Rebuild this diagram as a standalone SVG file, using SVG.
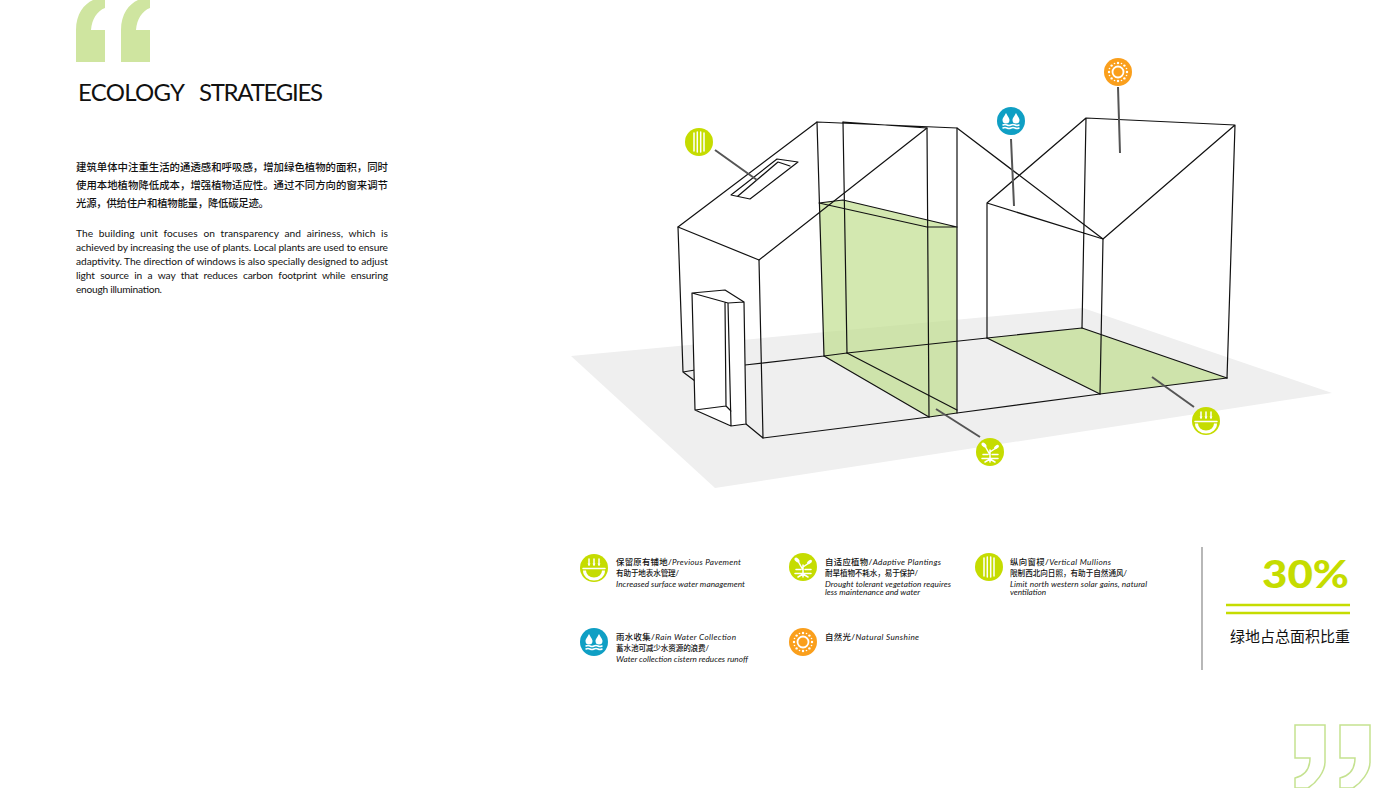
<svg xmlns="http://www.w3.org/2000/svg" width="1400" height="788" viewBox="0 0 1400 788">
<style>
text{font-family:"Lato","Noto Sans CJK SC","Noto Sans",sans-serif;fill:#111}
.wire{fill:none;stroke:#111;stroke-width:1.2;stroke-linejoin:round;stroke-linecap:round}
.green{fill:#bcdc85;fill-opacity:.65;stroke:none}
.leader{fill:none;stroke:#555;stroke-width:2}
.cn{font-size:10.4px;font-weight:500}
.en{font-size:10.2px}
.lg{font-size:8.4px;font-weight:500}
.lg2{font-size:7.6px;font-weight:500}
.it{font-size:8.2px;font-style:italic;font-weight:400}
.i{fill:none;stroke:#fff;stroke-width:1.5;stroke-linecap:round}
.if{fill:#fff;stroke:none}
</style>
<defs>
<g id="ic-pave"><circle r="14" fill="#c5dc00"/><path class="i" d="M-5 -9V-3M0 -9V-3M5 -9V-3"/><path class="if" d="M-6.500 -4.500L-3.500 -4.500L-5 -2ZM-1.500 -4.500L1.500 -4.500L0 -2ZM3.500 -4.500L6.500 -4.500L5 -2Z"/><path class="i" d="M-11 0.500H11" stroke-width="2"/><path d="M-9.500 2.500A9.500 8.500 0 0 0 9.500 2.500" fill="none" stroke="#fff" stroke-width="3"/></g>
<g id="ic-mull"><circle r="14" fill="#c5dc00"/><path class="i" d="M-5 -9V9M-1.700 -10V10M1.700 -10V10M5 -9V9"/></g>
<g id="ic-plant"><circle r="14" fill="#c5dc00"/><path class="i" stroke-width="1.200" d="M0 10V-2M0 3L-5 -6M0 0L6 -4M-7 2.500H-2M2 2.500H8M-8 6.500H8M-5 10L0 7L5 10"/><ellipse class="if" cx="-6" cy="-7" rx="3" ry="1.800" transform="rotate(45 -6 -7)"/><ellipse class="if" cx="6.500" cy="-5" rx="2.800" ry="1.600" transform="rotate(-35 6.500 -5)"/></g>
<g id="ic-water"><circle r="14" fill="#0f9fc4"/><path class="if" d="M-5 -8C-7 -4 -8.500 -3 -8.500 -1A3.500 3.500 0 0 0 -1.500 -1C-1.500 -3 -3 -4 -5 -8ZM5 -8C3 -4 1.500 -3 1.500 -1A3.500 3.500 0 0 0 8.500 -1C8.500 -3 7 -4 5 -8Z"/><path class="i" stroke-width="1" d="M-8 4Q-6 3 -4 4T0 4T4 4T8 4M-8 7Q-6 6 -4 7T0 7T4 7T8 7"/></g>
<g id="ic-sun"><circle r="14" fill="#fa9f1c"/><circle r="5.500" fill="none" stroke="#fff" stroke-width="1.800"/><g fill="#fff"><circle cx="0" cy="-9" r="1.200"/><circle cx="0" cy="9" r="1.200"/><circle cx="-9" cy="0" r="1.200"/><circle cx="9" cy="0" r="1.200"/><circle cx="6.400" cy="6.400" r="1.200"/><circle cx="-6.400" cy="6.400" r="1.200"/><circle cx="6.400" cy="-6.400" r="1.200"/><circle cx="-6.400" cy="-6.400" r="1.200"/><circle cx="3.500" cy="-8.500" r=".8"/><circle cx="-3.500" cy="-8.500" r=".8"/><circle cx="3.500" cy="8.500" r=".8"/><circle cx="-3.500" cy="8.500" r=".8"/><circle cx="8.500" cy="3.500" r=".8"/><circle cx="8.500" cy="-3.500" r=".8"/><circle cx="-8.500" cy="3.500" r=".8"/><circle cx="-8.500" cy="-3.500" r=".8"/></g></g>
<path id="q-top" d="M76 62V30C76 14 84 4 93 0H105V8C97 11 92 19 91 30H105V62Z"/>
<path id="q-bot" d="M1295 725H1325V762C1325 772 1316 783 1308 788H1295V778C1303 776 1310 770 1310 758H1295Z"/>
</defs>

<g id="quote-top" fill="#cfe5a0"><use href="#q-top"/><use href="#q-top" x="45"/></g>
<g id="quote-bottom" fill="none" stroke="#c5e290" stroke-width="1.500"><use href="#q-bot"/><use href="#q-bot" x="45"/></g>

<g id="intro">
<text x="78" y="101" font-size="24" textLength="107">ECOLOGY</text>
<text x="199" y="101" font-size="24" textLength="124">STRATEGIES</text>
<text class="cn" x="76" y="171" textLength="312">建筑单体中注重生活的通透感和呼吸感，增加绿色植物的面积，同时</text>
<text class="cn" x="76" y="189" textLength="312">使用本地植物降低成本，增强植物适应性。通过不同方向的窗来调节</text>
<text class="cn" x="76" y="207" textLength="193">光源，供给住户和植物能量，降低碳足迹。</text>
<text class="en" x="76" y="237" textLength="312" word-spacing="3">The building unit focuses on transparency and airiness, which is</text>
<text class="en" x="76" y="251" textLength="312">achieved by increasing the use of plants. Local plants are used to ensure</text>
<text class="en" x="76" y="265" textLength="312">adaptivity. The direction of windows is also specially designed to adjust</text>
<text class="en" x="76" y="279" textLength="312" word-spacing="3">light source in a way that reduces carbon footprint while ensuring</text>
<text class="en" x="76" y="293" textLength="86">enough illumination.</text>
</g>

<polygon id="ground" points="571,356 1083,308 1332,393 715,488" fill="#efefef"/>

<g id="building">
<polygon class="green" points="819,203 843,200 957,227 957,413 929,417 824,356"/>
<polygon class="green" points="987,338 1082,328 1227,378 1100,394"/>
<path class="wire" d="M678 227L817 122L957 128L1103 239M678 227L759 260L927 128M843 122L927 128"/>
<path class="wire" d="M817 122L824 356M843 122L847 353M927 128L929 417M957 128L957 413"/>
<path class="wire" d="M819 203L843 200L957 227H927L819 203"/>
<path class="wire" d="M745 365L824 356M847 353L987 338L1082 328M824 356L847 353M763 438L929 417L957 413L1100 394L1227 378"/>
<path class="wire" d="M824 356L929 417M847 353L957 410"/>
<path class="wire" d="M987 338L1100 394M1082 328L1227 378"/>
<path class="wire" d="M987 203L1086 118L1235 125L1103 239L987 203M987 203V338M1086 118L1082 328M1103 239L1100 394M1235 125L1227 378"/>
<path class="wire" d="M678 227L683 372L695 381M683 372L695 370M759 260L763 438L746 424"/>
<path class="wire" d="M731 195L777 159L798 162L750 199ZM738 196L778 162L790 166"/>
<path d="M692 293L725 290L744 302L746 424L731 426L695 410Z" fill="#fff"/>
<path class="wire" d="M692 293L725 290L744 302L728 303L692 293L695 410L731 426L746 424L744 302M728 303L731 426M725 303L726 406L731 411M695 410L726 406"/>
</g>

<g id="connectors">
<path class="leader" d="M715 150L757 180M1011 139L1014 206M1118 87L1120 153M936 409L980 437M1152 377L1194 407"/>
</g>

<g id="node-mullions"><use href="#ic-mull" x="699" y="142"/></g>
<g id="node-water"><use href="#ic-water" x="1011" y="121"/></g>
<g id="node-sun"><use href="#ic-sun" x="1118" y="72"/></g>
<g id="node-plant"><use href="#ic-plant" x="990" y="452"/></g>
<g id="node-pavement"><use href="#ic-pave" x="1206" y="421"/></g>

<g id="legend-pavement"><use href="#ic-pave" x="594" y="568"/>
<text class="lg" x="616" y="565" textLength="125">保留原有铺地/<tspan class="it">Previous Pavement</tspan></text>
<text class="lg2" x="616" y="576" textLength="63">有助于地表水管理/</text>
<text class="it" x="616" y="587" textLength="129">Increased surface water management</text></g>
<g id="legend-plantings"><use href="#ic-plant" x="803" y="567"/>
<text class="lg" x="825" y="565" textLength="116">自适应植物/<tspan class="it">Adaptive Plantings</tspan></text>
<text class="lg2" x="825" y="576" textLength="93">耐旱植物不耗水，易于保护/</text>
<text class="it" x="825" y="587" textLength="126">Drought tolerant vegetation requires</text>
<text class="it" x="825" y="595" textLength="95">less maintenance and water</text></g>
<g id="legend-mullions"><use href="#ic-mull" x="989" y="567"/>
<text class="lg" x="1010" y="565" textLength="101">纵向窗棂/<tspan class="it">Vertical Mullions</tspan></text>
<text class="lg2" x="1010" y="576" textLength="117">限制西北向日照，有助于自然通风/</text>
<text class="it" x="1010" y="587" textLength="137">Limit north western solar gains, natural</text>
<text class="it" x="1010" y="595" textLength="36">ventilation</text></g>
<g id="legend-water"><use href="#ic-water" x="594" y="642"/>
<text class="lg" x="616" y="640" textLength="120">雨水收集/<tspan class="it">Rain Water Collection</tspan></text>
<text class="lg2" x="616" y="651" textLength="93">蓄水池可减少水资源的浪费/</text>
<text class="it" x="616" y="662" textLength="132">Water collection cistern reduces runoff</text></g>
<g id="legend-sun"><use href="#ic-sun" x="803" y="642"/>
<text class="lg" x="825" y="640" textLength="94">自然光/<tspan class="it">Natural Sunshine</tspan></text></g>

<g id="stat">
<path d="M1202 547V670" stroke="#888" stroke-width="1.200" fill="none"/>
<text x="1262" y="588" font-size="38" font-weight="900" textLength="87" lengthAdjust="spacingAndGlyphs" style="fill:#c5dc00">30%</text>
<path d="M1226 605H1350M1226 613H1350" stroke="#c5dc00" stroke-width="2.500" fill="none"/>
<text x="1230" y="642" font-size="15" textLength="120">绿地占总面积比重</text>
</g>
</svg>
